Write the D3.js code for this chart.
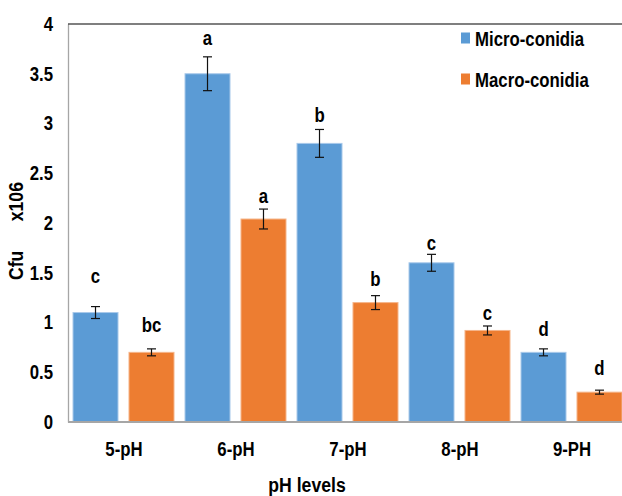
<!DOCTYPE html>
<html>
<head>
<meta charset="utf-8">
<script src="https://cdn.jsdelivr.net/npm/d3@7"></script>
<style>
  html, body { margin: 0; padding: 0; background: #fff; }
  svg text { font-family: "Liberation Sans", Arial, sans-serif; font-weight: bold; fill: #000; white-space: pre; }
</style>
</head>
<body>
<svg id="chart" width="622" height="496"></svg>
<script>
const categories = ["5-pH", "6-pH", "7-pH", "8-pH", "9-PH"];
const seriesNames = ["Micro-conidia", "Macro-conidia"];
const microValues = [1.10, 3.50, 2.80, 1.60, 0.70];
const macroValues = [0.70, 2.04, 1.20, 0.92, 0.30];
const microErrors = [0.06, 0.17, 0.14, 0.085, 0.035];
const macroErrors = [0.035, 0.10, 0.07, 0.045, 0.02];
const microLetters = ["c", "a", "b", "c", "d"];
const macroLetters = ["bc", "a", "b", "c", "d"];
const microLetterAt = [1.40, 3.79, 3.02, 1.73, 0.86];
const macroLetterAt = [0.90, 2.20, 1.37, 1.025, 0.47];
const yTicks = [0, 0.5, 1, 1.5, 2, 2.5, 3, 3.5, 4];
const colors = ["#5B9BD5", "#ED7D31"];
const strokeColors = ["#a9c9ea", "#f5b58a"];

const series = [
  { name: seriesNames[0], values: microValues, errors: microErrors, letters: microLetters, letterAt: microLetterAt },
  { name: seriesNames[1], values: macroValues, errors: macroErrors, letters: macroLetters, letterAt: macroLetterAt }
];

const SX = 0.84; // condensed look of the original typeface
function narrow(sel) {
  sel.each(function () {
    const t = d3.select(this);
    const tx = +(t.attr("x") || 0), ty = +(t.attr("y") || 0);
    t.attr("x", 0).attr("y", 0).attr("transform", `translate(${tx},${ty}) scale(${SX},1)`);
  });
}

const svg = d3.select("#chart");
const mLeft = 68, mRight = 628, mTop = 24, mBottom = 422;

const x = d3.scaleBand().domain(categories).range([mLeft, mRight]).paddingInner(0).paddingOuter(0);
const xs = d3.scaleBand().domain(d3.range(series.length)).range([5, 106]).paddingInner(0.196).paddingOuter(0);
const y = d3.scaleLinear().domain([0, 4]).range([mBottom, mTop]);

// bars
series.forEach((s, si) => {
  const g = svg.append("g");
  g.selectAll("rect").data(categories).join("rect")
    .attr("x", c => x(c) + xs(si))
    .attr("y", (c, i) => y(s.values[i]))
    .attr("width", xs.bandwidth())
    .attr("height", (c, i) => y(0) - y(s.values[i]))
    .attr("fill", colors[si])
    .attr("stroke", strokeColors[si])
    .attr("stroke-width", 1);
});

// axes
const yAxis = d3.axisLeft(y).tickValues(yTicks).tickSize(0).tickPadding(15).tickFormat(d3.format("~g"));
const ya = svg.append("g").attr("transform", `translate(${mLeft},0)`).call(yAxis);
ya.select(".domain").attr("stroke", "#a6a6a6").attr("stroke-width", 1.3);
ya.selectAll(".tick text").attr("font-size", 20).attr("fill", "#000").call(narrow);

const xAxis = d3.axisBottom(x).tickSize(0).tickPadding(20);
const xa = svg.append("g").attr("transform", `translate(0,${mBottom})`).call(xAxis);
xa.select(".domain").attr("stroke", "#a6a6a6").attr("stroke-width", 2).attr("d", `M${mLeft},0H622`);
xa.selectAll(".tick text").attr("font-size", 20).attr("fill", "#000").call(narrow);

ya.attr("font-family", null).attr("font-size", null);
xa.attr("font-family", null).attr("font-size", null);

// top border
svg.append("line").attr("x1", mLeft).attr("x2", 622).attr("y1", mTop).attr("y2", mTop)
  .attr("stroke", "#000").attr("stroke-width", 1.2);

// error bars and letters
series.forEach((s, si) => {
  const g = svg.append("g");
  categories.forEach((c, i) => {
    const cx = x(c) + xs(si) + xs.bandwidth() / 2;
    const y1 = y(s.values[i] + s.errors[i]);
    const y2 = y(s.values[i] - s.errors[i]);
    g.append("line").attr("x1", cx).attr("x2", cx).attr("y1", y1).attr("y2", y2).attr("stroke", "#111").attr("stroke-width", 1.2);
    g.append("line").attr("x1", cx - 4.5).attr("x2", cx + 4.5).attr("y1", y1).attr("y2", y1).attr("stroke", "#111").attr("stroke-width", 1.2);
    g.append("line").attr("x1", cx - 4.5).attr("x2", cx + 4.5).attr("y1", y2).attr("y2", y2).attr("stroke", "#111").attr("stroke-width", 1.2);
    g.append("text").attr("x", cx).attr("y", y(s.letterAt[i]))
      .attr("text-anchor", "middle").attr("font-size", 20).text(s.letters[i]).call(narrow);
  });
});

// legend
const lg = svg.append("g");
series.forEach((s, si) => {
  const ly = 46 + si * 41;
  lg.append("rect").attr("x", 461).attr("y", ly - 13.5).attr("width", 9).attr("height", 11).attr("fill", colors[si]);
  lg.append("text").attr("x", 475).attr("y", ly).attr("font-size", 20).text(s.name).call(narrow);
});

// axis titles
svg.append("text").attr("x", 307).attr("y", 492).attr("text-anchor", "middle").attr("font-size", 21).text("pH levels").call(narrow);
svg.append("text").attr("transform", `translate(23,231) rotate(-90) scale(${SX},1)`).attr("text-anchor", "middle")
  .attr("font-size", 21).text("Cfu      x106");
</script>
</body>
</html>
